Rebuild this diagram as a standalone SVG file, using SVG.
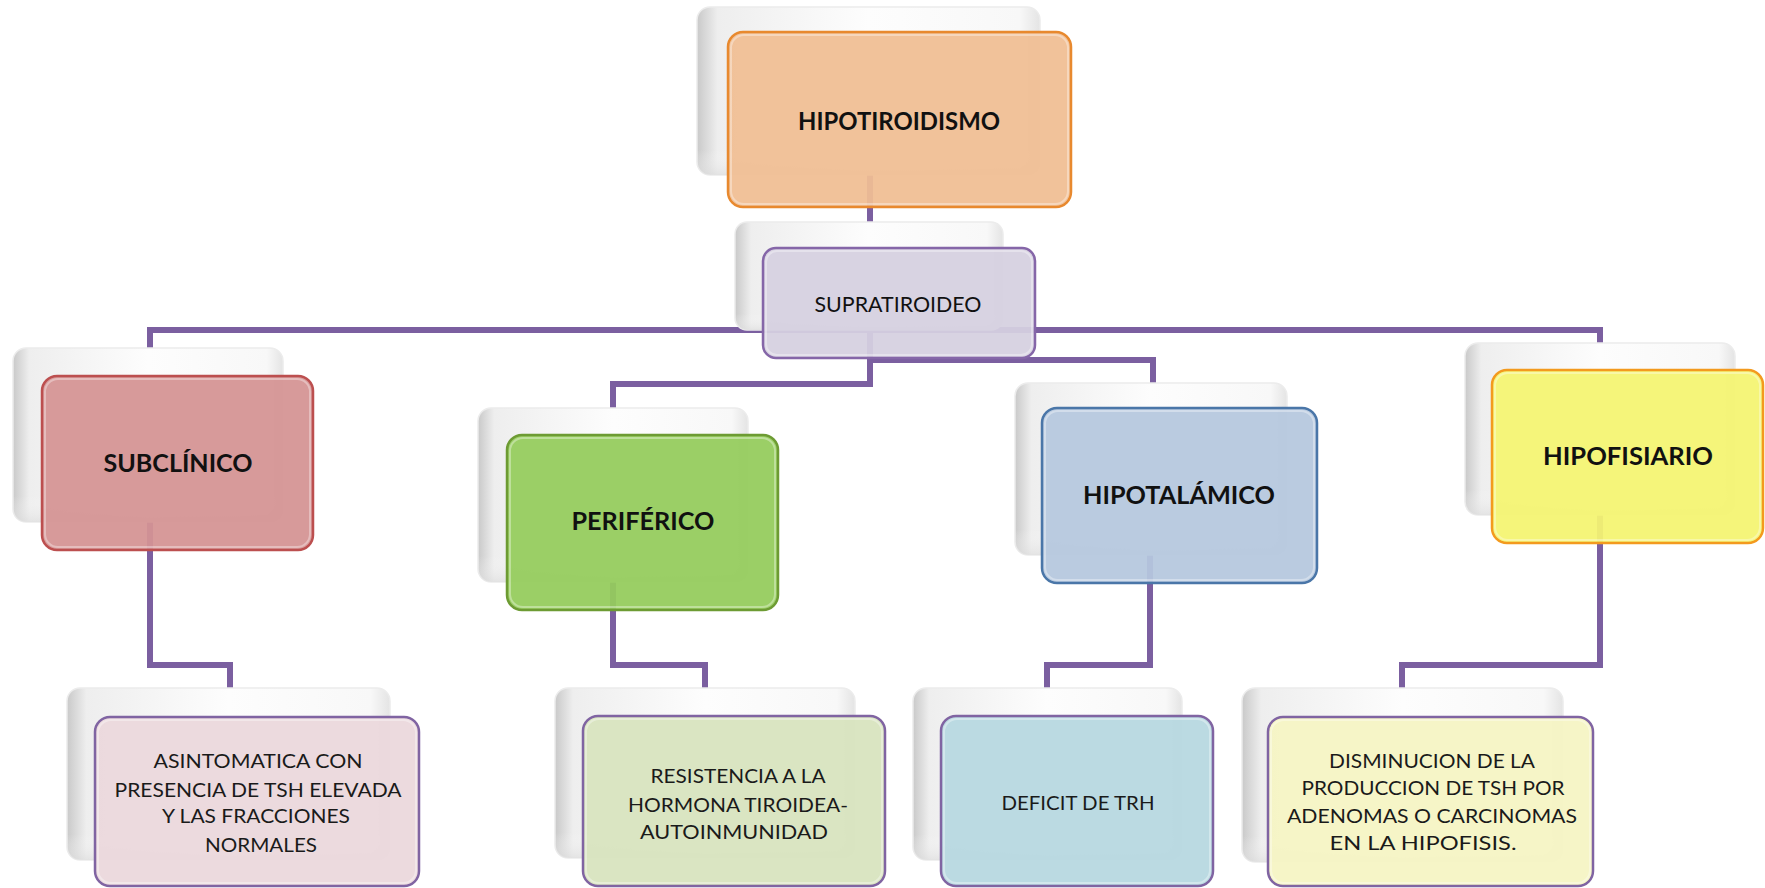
<svg xmlns="http://www.w3.org/2000/svg" width="1765" height="888" viewBox="0 0 1765 888">
  <defs>
    <!-- glossy white shadow card behind every node -->
    <linearGradient id="cardShade" x1="0" y1="0" x2="1" y2="0">
      <stop offset="0" stop-color="#c9c9c9"/>
      <stop offset="0.06" stop-color="#eeeeee"/>
      <stop offset="0.5" stop-color="#fdfdfd"/>
      <stop offset="0.94" stop-color="#f8f8f8"/>
      <stop offset="1" stop-color="#e4e4e4"/>
    </linearGradient>
    <linearGradient id="cardTop" x1="0" y1="0" x2="0" y2="1">
      <stop offset="0" stop-color="#ffffff" stop-opacity="0"/>
      <stop offset="0.85" stop-color="#ffffff" stop-opacity="0"/>
      <stop offset="1" stop-color="#dcdcdc" stop-opacity="0.6"/>
    </linearGradient>
    <style>
      .card { fill: url(#cardShade); stroke: #ececec; stroke-width: 1.5; }
      .cardfade { fill: url(#cardTop); }
      .box { stroke-width: 2.5; fill-opacity: 0.94; }
      .bevel { fill: none; stroke: #ffffff; stroke-opacity: 0.35; stroke-width: 2; }
      .link { fill: none; stroke: #7b5fa0; stroke-width: 6; stroke-linejoin: miter; stroke-linecap: butt; }
      .t { font-family: Lato, "Open Sans", "Liberation Sans", sans-serif; fill: #111111; text-anchor: middle; }
      .tb { font-weight: bold; font-size: 24.5px; }
      .tr { font-weight: normal; font-size: 19px; fill: #1a1a1a; }
    </style>
  </defs>

  <rect width="1765" height="888" fill="#ffffff"/>

  <!-- connectors (drawn first so the translucent boxes let them show faintly) -->
  <g id="connectors">
    <path class="link" d="M870,175 V330"/>
    <path class="link" d="M150,348 V330 H1600 V343"/>
    <path class="link" d="M870,330 V384 H613 V408"/>
    <path class="link" d="M870,360 H1153 V383"/>
    <path class="link" d="M150,522 V665 H230 V688"/>
    <path class="link" d="M613,582 V665 H705 V688"/>
    <path class="link" d="M1150,555 V665 H1047 V688"/>
    <path class="link" d="M1600,515 V665 H1402 V688"/>
  </g>

  <!-- top level -->
  <g id="node-hipotiroidismo">
    <rect class="card" x="697" y="7" width="343" height="168" rx="13"/>
    <rect class="cardfade" x="697" y="7" width="343" height="168" rx="13"/>
    <rect class="box" x="728" y="32" width="343" height="175" rx="15" fill="#f0be94" stroke="#e8892e"/>
    <rect class="bevel" x="731" y="35" width="337" height="169" rx="13"/>
    <text class="t tb" x="899" y="130" textLength="202" lengthAdjust="spacingAndGlyphs">HIPOTIROIDISMO</text>
  </g>

  <g id="node-supratiroideo">
    <rect class="card" x="735" y="222" width="268" height="108" rx="12"/>
    <rect class="cardfade" x="735" y="222" width="268" height="108" rx="12"/>
    <rect class="box" x="763" y="248" width="272" height="110" rx="13" fill="#d6d0e0" stroke="#8566a8"/>
    <rect class="bevel" x="766" y="251" width="266" height="104" rx="11"/>
    <text class="t" x="898" y="312" font-size="22px" fill="#1a1a1a" textLength="167" lengthAdjust="spacingAndGlyphs">SUPRATIROIDEO</text>
  </g>

  <!-- second level -->
  <g id="node-subclinico">
    <rect class="card" x="13" y="348" width="270" height="174" rx="13"/>
    <rect class="cardfade" x="13" y="348" width="270" height="174" rx="13"/>
    <rect class="box" x="42" y="376" width="271" height="174" rx="15" fill="#d49494" stroke="#bc4f4f"/>
    <rect class="bevel" x="45" y="379" width="265" height="168" rx="13"/>
    <text class="t tb" x="178" y="472" textLength="149" lengthAdjust="spacingAndGlyphs">SUBCLÍNICO</text>
  </g>

  <g id="node-periferico">
    <rect class="card" x="478" y="408" width="270" height="174" rx="13"/>
    <rect class="cardfade" x="478" y="408" width="270" height="174" rx="13"/>
    <rect class="box" x="507" y="435" width="271" height="175" rx="15" fill="#95cc5c" stroke="#6d9b33"/>
    <rect class="bevel" x="510" y="438" width="265" height="169" rx="13"/>
    <text class="t tb" x="643" y="530" textLength="143" lengthAdjust="spacingAndGlyphs">PERIFÉRICO</text>
  </g>

  <g id="node-hipotalamico">
    <rect class="card" x="1015" y="383" width="272" height="172" rx="13"/>
    <rect class="cardfade" x="1015" y="383" width="272" height="172" rx="13"/>
    <rect class="box" x="1042" y="408" width="275" height="175" rx="15" fill="#b6c8de" stroke="#4a76a8"/>
    <rect class="bevel" x="1045" y="411" width="269" height="169" rx="13"/>
    <text class="t tb" x="1179" y="504" textLength="192" lengthAdjust="spacingAndGlyphs">HIPOTALÁMICO</text>
  </g>

  <g id="node-hipofisiario">
    <rect class="card" x="1465" y="343" width="270" height="172" rx="13"/>
    <rect class="cardfade" x="1465" y="343" width="270" height="172" rx="13"/>
    <rect class="box" x="1492" y="370" width="271" height="173" rx="15" fill="#f4f472" stroke="#f39a1e"/>
    <rect class="bevel" x="1495" y="373" width="265" height="167" rx="13"/>
    <text class="t tb" x="1628" y="465" textLength="170" lengthAdjust="spacingAndGlyphs">HIPOFISIARIO</text>
  </g>

  <!-- third level -->
  <g id="node-asintomatica">
    <rect class="card" x="67" y="688" width="323" height="172" rx="13"/>
    <rect class="cardfade" x="67" y="688" width="323" height="172" rx="13"/>
    <rect class="box" x="95" y="717" width="324" height="169" rx="15" fill="#ebd8dc" stroke="#8064a2"/>
    <rect class="bevel" x="98" y="720" width="318" height="163" rx="13"/>
    <text class="t tr" x="258" y="768" textLength="209" lengthAdjust="spacingAndGlyphs">ASINTOMATICA CON</text>
    <text class="t tr" x="258" y="797" textLength="287" lengthAdjust="spacingAndGlyphs">PRESENCIA DE TSH ELEVADA</text>
    <text class="t tr" x="256" y="823" textLength="188" lengthAdjust="spacingAndGlyphs">Y LAS FRACCIONES</text>
    <text class="t tr" x="261" y="852" textLength="112" lengthAdjust="spacingAndGlyphs">NORMALES</text>
  </g>

  <g id="node-resistencia">
    <rect class="card" x="555" y="688" width="300" height="170" rx="13"/>
    <rect class="cardfade" x="555" y="688" width="300" height="170" rx="13"/>
    <rect class="box" x="583" y="716" width="302" height="170" rx="15" fill="#d8e3be" stroke="#8064a2"/>
    <rect class="bevel" x="586" y="719" width="296" height="164" rx="13"/>
    <text class="t tr" x="738" y="783" textLength="175" lengthAdjust="spacingAndGlyphs">RESISTENCIA A LA</text>
    <text class="t tr" x="738" y="812" textLength="220" lengthAdjust="spacingAndGlyphs">HORMONA TIROIDEA-</text>
    <text class="t tr" x="734" y="839" textLength="188" lengthAdjust="spacingAndGlyphs">AUTOINMUNIDAD</text>
  </g>

  <g id="node-deficit">
    <rect class="card" x="913" y="688" width="269" height="172" rx="13"/>
    <rect class="cardfade" x="913" y="688" width="269" height="172" rx="13"/>
    <rect class="box" x="941" y="716" width="272" height="170" rx="15" fill="#b7d8e0" stroke="#8064a2"/>
    <rect class="bevel" x="944" y="719" width="266" height="164" rx="13"/>
    <text class="t tr" x="1078" y="810" textLength="153" lengthAdjust="spacingAndGlyphs">DEFICIT DE TRH</text>
  </g>

  <g id="node-disminucion">
    <rect class="card" x="1242" y="688" width="321" height="174" rx="13"/>
    <rect class="cardfade" x="1242" y="688" width="321" height="174" rx="13"/>
    <rect class="box" x="1268" y="717" width="325" height="169" rx="15" fill="#f5f4c4" stroke="#8064a2"/>
    <rect class="bevel" x="1271" y="720" width="319" height="163" rx="13"/>
    <text class="t tr" x="1432" y="768" textLength="206" lengthAdjust="spacingAndGlyphs">DISMINUCION DE LA</text>
    <text class="t tr" x="1433" y="795" textLength="263" lengthAdjust="spacingAndGlyphs">PRODUCCION DE TSH POR</text>
    <text class="t tr" x="1432" y="823" textLength="290" lengthAdjust="spacingAndGlyphs">ADENOMAS O CARCINOMAS</text>
    <text class="t tr" x="1423" y="850" textLength="187" lengthAdjust="spacingAndGlyphs">EN LA HIPOFISIS.</text>
  </g>
</svg>
